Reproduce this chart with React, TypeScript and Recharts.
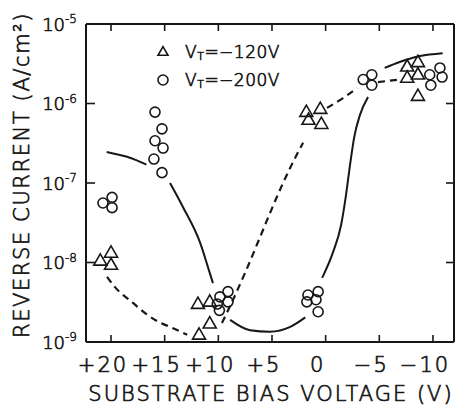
import React from 'react';
import { ComposedChart, XAxis, YAxis, Scatter, Line, Legend, Label } from 'recharts';

type Pt = { v: number; i: number | null };

// Axis ticks and their printed labels
const voltageTicks = [20, 15, 10, 5, 0, -5, -10];
const voltageTickLabels = ['+20', '+15', '+10', '+5', '0', '\u22125', '\u221210'];
const currentTicks = [1e-9, 1e-8, 1e-7, 1e-6, 1e-5];
const currentExponents = ['-9', '-8', '-7', '-6', '-5'];
const innerCurrentTicks = [1e-8, 1e-7, 1e-6];

// Series names
const nameVt120 = 'VT=\u2212120V';
const nameVt200 = 'VT=\u2212200V';

// Measured reverse current, V_T = -120 V (triangles)
const vt120: Pt[] = [
  { v: 21.0, i: 1.05e-8 }, { v: 20.0, i: 1.32e-8 }, { v: 20.0, i: 9.3e-9 },
  { v: 11.9, i: 3.0e-9 }, { v: 10.8, i: 3.2e-9 }, { v: 10.8, i: 1.7e-9 }, { v: 11.8, i: 1.23e-9 },
  { v: 1.8, i: 7.8e-7 }, { v: 0.5, i: 8.5e-7 }, { v: 1.6, i: 6.2e-7 }, { v: 0.4, i: 5.5e-7 },
  { v: -7.6, i: 2.9e-6 }, { v: -8.6, i: 3.3e-6 }, { v: -7.6, i: 2.1e-6 }, { v: -8.6, i: 2.3e-6 },
  { v: -8.6, i: 1.24e-6 },
];

// Measured reverse current, V_T = -200 V (circles)
const vt200: Pt[] = [
  { v: 20.75, i: 5.6e-8 }, { v: 19.9, i: 6.6e-8 }, { v: 19.9, i: 4.9e-8 },
  { v: 15.9, i: 7.8e-7 }, { v: 15.25, i: 4.8e-7 }, { v: 15.9, i: 3.4e-7 },
  { v: 15.15, i: 2.75e-7 }, { v: 16.0, i: 2.0e-7 }, { v: 15.25, i: 1.35e-7 },
  { v: 9.1, i: 4.3e-9 }, { v: 9.85, i: 3.7e-9 }, { v: 9.1, i: 3.2e-9 }, { v: 10.1, i: 3.0e-9 },
  { v: 9.9, i: 2.5e-9 },
  { v: 1.65, i: 3.9e-9 }, { v: 0.7, i: 4.3e-9 }, { v: 1.75, i: 3.2e-9 }, { v: 0.9, i: 3.4e-9 },
  { v: 0.7, i: 2.4e-9 },
  { v: -3.5, i: 2.0e-6 }, { v: -4.3, i: 2.3e-6 }, { v: -4.3, i: 1.7e-6 },
  { v: -9.7, i: 2.3e-6 }, { v: -10.65, i: 2.8e-6 }, { v: -10.85, i: 2.15e-6 }, { v: -9.8, i: 1.7e-6 },
];

// Guide curve through the -200 V data (solid), broken where it passes the point clusters
const solidFit: Pt[] = [
  { v: 20.4, i: 2.45e-7 }, { v: 19.5, i: 2.3e-7 }, { v: 18.5, i: 2.14e-7 }, { v: 17.5, i: 1.9e-7 },
  { v: 16.7, i: 1.7e-7 },
  { v: 15.6, i: null },
  { v: 14.5, i: 1.0e-7 }, { v: 13.3, i: 5.0e-8 }, { v: 11.7, i: 1.78e-8 }, { v: 10.8, i: 7.4e-9 },
  { v: 10.5, i: 5.5e-9 },
  { v: 9.6, i: null },
  { v: 8.9, i: 1.9e-9 }, { v: 7.05, i: 1.41e-9 }, { v: 5.2, i: 1.35e-9 }, { v: 3.3, i: 1.55e-9 },
  { v: 1.9, i: 2.04e-9 },
  { v: 1.2, i: null },
  { v: 0.33, i: 6.4e-9 }, { v: -0.69, i: 1.35e-8 }, { v: -1.44, i: 2.96e-8 }, { v: -1.9, i: 7.1e-8 },
  { v: -2.27, i: 1.68e-7 }, { v: -2.65, i: 3.7e-7 }, { v: -3.2, i: 7.2e-7 }, { v: -3.95, i: 1.21e-6 },
  { v: -4.6, i: null },
  { v: -5.5, i: 2.8e-6 }, { v: -6.9, i: 3.33e-6 }, { v: -8.8, i: 3.96e-6 }, { v: -10.9, i: 4.3e-6 },
];

// Guide curve through the -120 V data (dashed)
const dashedFit: Pt[] = [
  { v: 20.37, i: 6.6e-9 }, { v: 19.63, i: 4.9e-9 }, { v: 17.95, i: 3.1e-9 }, { v: 16.6, i: 2.19e-9 },
  { v: 15.4, i: 1.74e-9 }, { v: 14.5, i: 1.55e-9 }, { v: 12.9, i: 1.23e-9 },
  { v: 11.5, i: null },
  { v: 9.66, i: 1.73e-9 }, { v: 8.72, i: 3.2e-9 }, { v: 7.51, i: 7.4e-9 }, { v: 6.3, i: 1.81e-8 },
  { v: 5.18, i: 4.2e-8 }, { v: 3.97, i: 1.0e-7 }, { v: 2.67, i: 2.3e-7 }, { v: 2.1, i: 3.2e-7 },
  { v: 1.0, i: null },
  { v: -0.13, i: 8.8e-7 }, { v: -1.62, i: 1.17e-6 }, { v: -2.93, i: 1.57e-6 },
  { v: -3.9, i: null },
  { v: -4.88, i: 1.86e-6 }, { v: -6.93, i: 2.0e-6 },
];

const INK = '#171717';
const FONT = '"DejaVu Sans", "Liberation Sans", Arial, sans-serif';
// Light face, thickened with a hairline outline
const TEXT_STYLE = { fontFamily: FONT, fontWeight: 200, fill: INK, stroke: INK, strokeWidth: 0.7 };
const X_TICK_GAP = 15;
const Y_TICK_GAP = 9;

const Triangle = ({ cx, cy, s = 13 }: { cx: number; cy: number; s?: number }) => {
  const h = s * 0.87;
  return (
    <path
      d={`M${cx},${cy - h * 0.62} L${cx + s / 2},${cy + h * 0.38} L${cx - s / 2},${cy + h * 0.38} Z`}
      fill="none"
      stroke={INK}
      strokeWidth={1.6}
      strokeLinejoin="miter"
    />
  );
};

const Ring = ({ cx, cy, r = 5 }: { cx: number; cy: number; r?: number }) => (
  <circle cx={cx} cy={cy} r={r} fill="none" stroke={INK} strokeWidth={1.6} />
);

const findIndex = (list: number[], value: number) => {
  let best = 0;
  list.forEach((t, k) => {
    if (Math.abs(Math.log10(t) - Math.log10(value)) < Math.abs(Math.log10(list[best]) - Math.log10(value))) best = k;
  });
  return best;
};

const BottomTick = (p: any) => {
  const axisY = p.y - X_TICK_GAP;
  const idx = voltageTicks.indexOf(p.payload.value);
  return (
    <g>
      <line x1={p.x} x2={p.x} y1={axisY} y2={axisY - 7} stroke={INK} strokeWidth={1.6} />
      <text x={p.x - 8} y={p.y} dy="0.73em" textAnchor="middle" fontSize={21} letterSpacing={2} {...TEXT_STYLE}>
        {voltageTickLabels[idx]}
      </text>
    </g>
  );
};

const TopTick = (p: any) => (
  <line x1={p.x} x2={p.x} y1={p.y} y2={p.y + 7} stroke={INK} strokeWidth={1.6} />
);

const LeftTick = (p: any) => {
  const axisX = p.x + Y_TICK_GAP;
  const idx = findIndex(currentTicks, p.payload.value);
  const inner = idx > 0 && idx < currentTicks.length - 1;
  return (
    <g>
      {inner && <line x1={axisX} x2={axisX + 9} y1={p.y} y2={p.y} stroke={INK} strokeWidth={1.6} />}
      <text x={p.x} y={p.y} textAnchor="end" {...TEXT_STYLE}>
        <tspan fontSize={18} dy={6.5}>10</tspan>
        <tspan fontSize={12} dy={-7.5} strokeWidth={0.5}>{currentExponents[idx]}</tspan>
      </text>
    </g>
  );
};

const RightTick = (p: any) => (
  <line x1={p.x} x2={p.x - 8} y1={p.y} y2={p.y} stroke={INK} strokeWidth={1.6} />
);

const LegendBox = (props: any) => {
  const payload = (props.payload || []).filter((e: any) => e.type !== 'none');
  return (
    <svg width={140} height={58} style={{ display: 'block', overflow: 'visible' }}>
      {payload.map((e: any, k: number) => {
        const cy = 14 + k * 28;
        const label: string = String(e.value);
        return (
          <g key={label}>
            {e.type === 'triangle' ? <Triangle cx={13} cy={cy} s={10} /> : <Ring cx={13} cy={cy} r={5} />}
            <text x={35} y={cy + 6} fontSize={17} letterSpacing={0.5} {...TEXT_STYLE}>
              {label.slice(0, 1)}
              <tspan fontSize={11} dy={2}>{label.slice(1, 2)}</tspan>
              <tspan dy={-2}>{label.slice(2)}</tspan>
            </text>
          </g>
        );
      })}
    </svg>
  );
};

const xDomain: [number, number] = [-11.96, 22.33];
const yDomain: [number, number] = [1e-9, 1e-5];

export default function App() {
  return (
    <div style={{ position: 'absolute', left: 0, top: 0, background: '#fff' }}>
      <ComposedChart width={465} height={409} margin={{ top: 0, right: 0, bottom: 0, left: 0 }}>
        <XAxis
          xAxisId="bottom"
          dataKey="v"
          type="number"
          domain={xDomain}
          reversed
          allowDataOverflow
          ticks={voltageTicks}
          interval={0}
          orientation="bottom"
          height={67}
          tickSize={0}
          tickMargin={X_TICK_GAP}
          tickLine={false}
          axisLine={{ stroke: INK, strokeWidth: 2 }}
          tick={<BottomTick />}
        >
          <Label
            content={(lp: any) => {
              const vb = lp.viewBox;
              return (
                <text
                  x={vb.x + vb.width / 2 + 1}
                  y={vb.y + 59}
                  textAnchor="middle"
                  fontSize={21}
                  letterSpacing={2}
                  {...TEXT_STYLE}
                >
                  SUBSTRATE BIAS VOLTAGE (V)
                </text>
              );
            }}
          />
        </XAxis>
        <XAxis
          xAxisId="top"
          dataKey="v"
          type="number"
          domain={xDomain}
          reversed
          allowDataOverflow
          ticks={voltageTicks}
          interval={0}
          orientation="top"
          height={24}
          tickSize={0}
          tickMargin={0}
          tickLine={false}
          axisLine={{ stroke: INK, strokeWidth: 2 }}
          tick={<TopTick />}
        />
        <YAxis
          yAxisId="left"
          dataKey="i"
          type="number"
          scale="log"
          domain={yDomain}
          allowDataOverflow
          ticks={currentTicks}
          interval={0}
          orientation="left"
          width={86}
          tickSize={0}
          tickMargin={Y_TICK_GAP}
          tickLine={false}
          axisLine={{ stroke: INK, strokeWidth: 2 }}
          tick={<LeftTick />}
        >
          <Label
            content={(lp: any) => {
              const vb = lp.viewBox;
              const cx = vb.x + 29;
              const cy = vb.y + vb.height / 2 - 8;
              return (
                <text
                  transform={`translate(${cx},${cy}) rotate(-90)`}
                  textAnchor="middle"
                  fontSize={21}
                  letterSpacing={1.6}
                  {...TEXT_STYLE}
                >
                  REVERSE CURRENT (A/cm²)
                </text>
              );
            }}
          />
        </YAxis>
        <YAxis
          yAxisId="right"
          dataKey="i"
          type="number"
          scale="log"
          domain={yDomain}
          allowDataOverflow
          ticks={innerCurrentTicks}
          interval={0}
          orientation="right"
          width={11}
          tickSize={0}
          tickMargin={0}
          tickLine={false}
          axisLine={{ stroke: INK, strokeWidth: 2 }}
          tick={<RightTick />}
        />

        <Line
          xAxisId="bottom"
          yAxisId="left"
          data={solidFit}
          dataKey="i"
          type="monotone"
          stroke={INK}
          strokeWidth={2}
          dot={false}
          activeDot={false}
          legendType="none"
          isAnimationActive={false}
        />
        <Line
          xAxisId="bottom"
          yAxisId="left"
          data={dashedFit}
          dataKey="i"
          type="monotone"
          stroke={INK}
          strokeWidth={2.2}
          strokeDasharray="7 5"
          dot={false}
          activeDot={false}
          legendType="none"
          isAnimationActive={false}
        />
        <Scatter
          xAxisId="bottom"
          yAxisId="left"
          name={nameVt120}
          data={vt120}
          legendType="triangle"
          shape={(sp: any) => <Triangle cx={sp.cx} cy={sp.cy} />}
          isAnimationActive={false}
        />
        <Scatter
          xAxisId="bottom"
          yAxisId="left"
          name={nameVt200}
          data={vt200}
          legendType="circle"
          shape={(sp: any) => <Ring cx={sp.cx} cy={sp.cy} />}
          isAnimationActive={false}
        />
        <Legend
          layout="vertical"
          align="center"
          verticalAlign="middle"
          content={<LegendBox />}
          wrapperStyle={{ left: 150, top: 38, width: 140, height: 58 }}
        />
      </ComposedChart>
    </div>
  );
}
